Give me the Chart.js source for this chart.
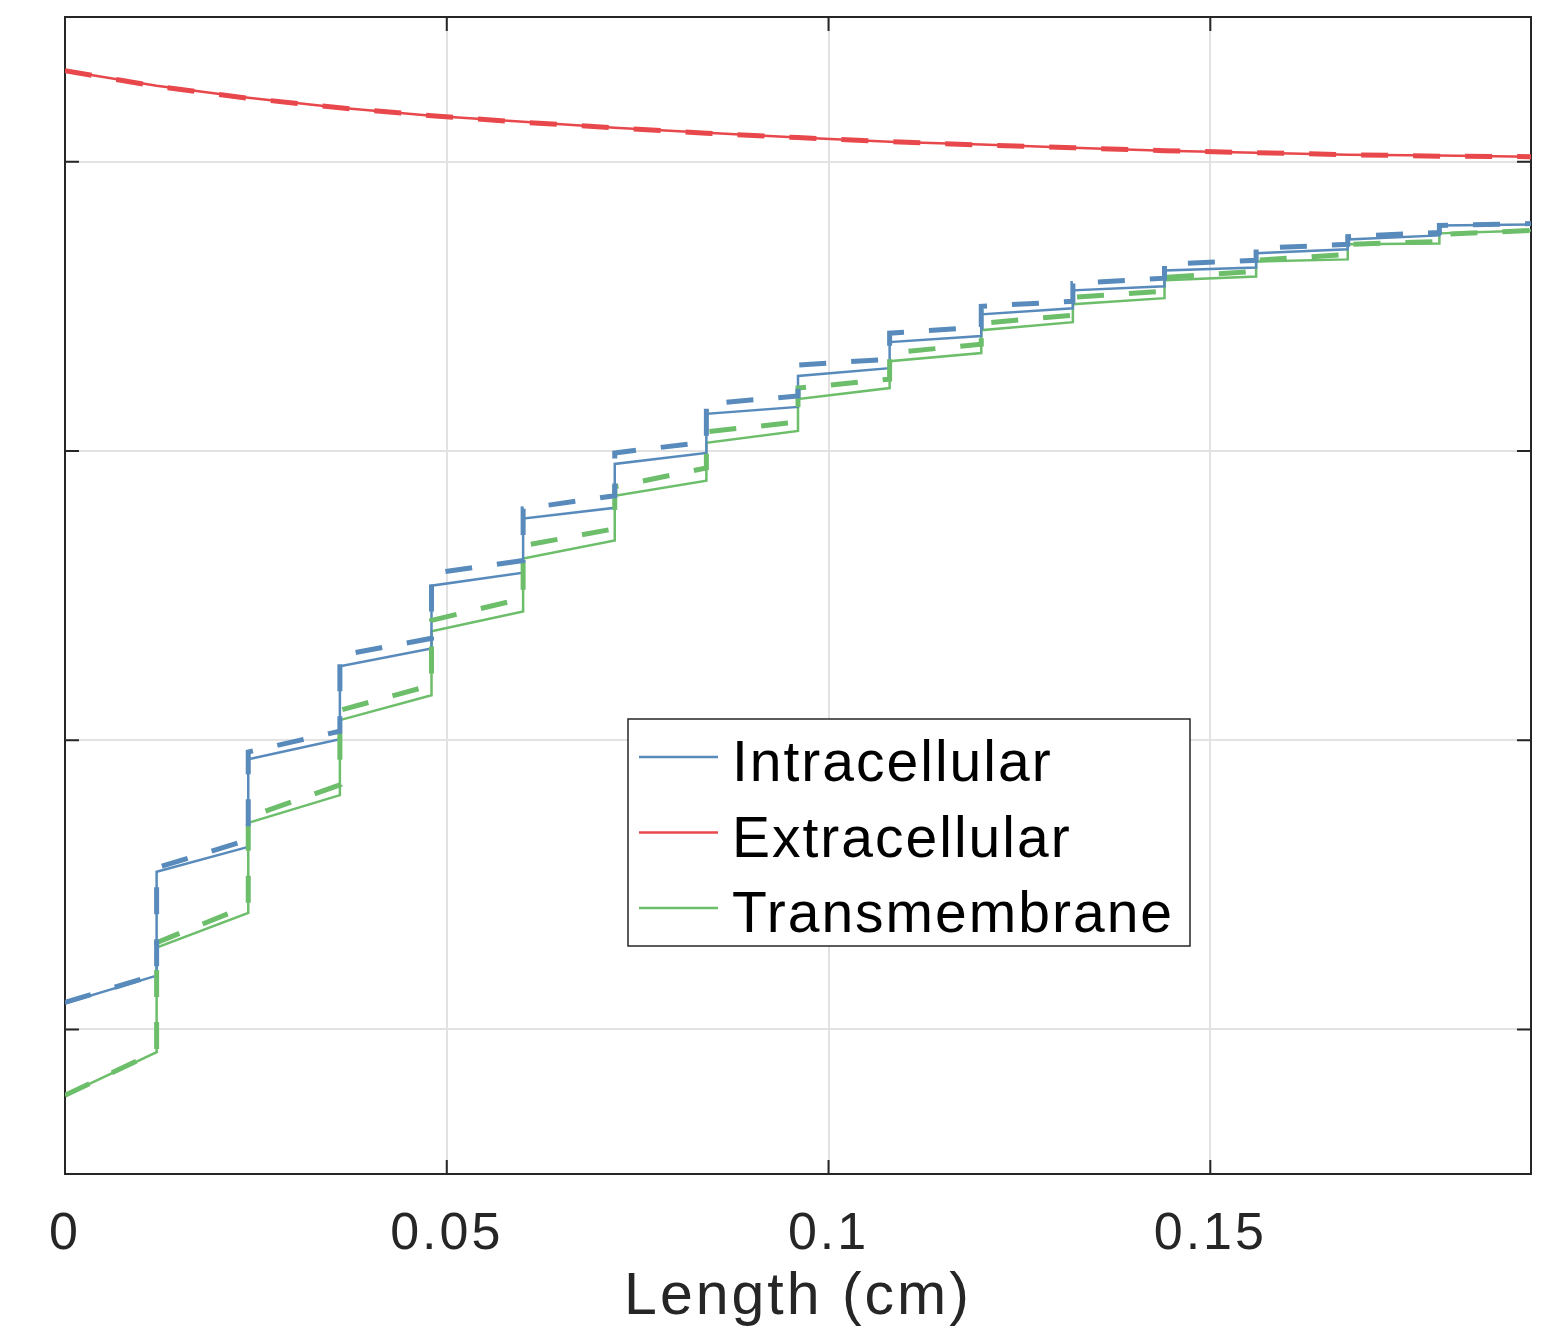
<!DOCTYPE html>
<html>
<head>
<meta charset="utf-8">
<script src="https://cdn.jsdelivr.net/npm/chart.js@4.4.0/dist/chart.umd.min.js"></script>
<style>
  body { margin: 0; background: #fff; }
  #wrap { width: 1553px; height: 1333px; }
</style>
</head>
<body>
<div id="wrap"><canvas id="myChart" width="1553" height="1333"></canvas></div>
<script>
// element boundaries along the fibre (cm)
var edges = [0, 0.012, 0.024, 0.036, 0.048, 0.06, 0.072, 0.084, 0.096, 0.108,
             0.12, 0.132, 0.144, 0.156, 0.168, 0.18, 0.192];

// intracellular, value at start / end of each element
var intraStart  = [0.590, 1.045, 1.434, 1.755, 2.034, 2.266, 2.455, 2.628, 2.759, 2.876, 2.972, 3.055, 3.124, 3.183, 3.231, 3.279];
var intraEnd    = [0.686, 1.131, 1.503, 1.817, 2.079, 2.303, 2.493, 2.652, 2.786, 2.897, 2.993, 3.069, 3.134, 3.197, 3.245, 3.283];
var intraStartD = [0.593, 1.059, 1.459, 1.793, 2.076, 2.300, 2.493, 2.662, 2.797, 2.907, 3.000, 3.079, 3.145, 3.200, 3.241, 3.279];
var intraEndD   = [0.690, 1.155, 1.531, 1.852, 2.121, 2.345, 2.531, 2.690, 2.817, 2.928, 3.017, 3.097, 3.159, 3.214, 3.255, 3.286];

// transmembrane
var transStart  = [0.272, 0.783, 1.214, 1.569, 1.876, 2.128, 2.345, 2.528, 2.679, 2.810, 2.917, 3.007, 3.090, 3.155, 3.214, 3.252];
var transEnd    = [0.421, 0.903, 1.310, 1.655, 1.945, 2.190, 2.397, 2.569, 2.717, 2.838, 2.945, 3.028, 3.103, 3.162, 3.217, 3.262];
var transStartD = [0.272, 0.800, 1.234, 1.603, 1.914, 2.172, 2.376, 2.566, 2.717, 2.838, 2.941, 3.031, 3.100, 3.159, 3.214, 3.248];
var transEndD   = [0.424, 0.928, 1.345, 1.690, 1.990, 2.231, 2.441, 2.600, 2.748, 2.869, 2.969, 3.052, 3.121, 3.179, 3.224, 3.262];

// extracellular, sampled at the element boundaries
var extra  = [3.814, 3.762, 3.721, 3.686, 3.659, 3.638, 3.617, 3.600, 3.583, 3.569, 3.559, 3.548, 3.538, 3.531, 3.524, 3.521, 3.517];
var extraD = [3.814, 3.760, 3.719, 3.686, 3.659, 3.636, 3.617, 3.598, 3.583, 3.569, 3.557, 3.548, 3.538, 3.531, 3.524, 3.519, 3.517];

var xTicks = [0, 0.05, 0.1, 0.15];
var xTickLabels = ['0', '0.05', '0.1', '0.15'];
var yGrid = [0.5, 1.5, 2.5, 3.5];

var blue = 'rgb(88,139,187)';
var red = 'rgb(232,72,75)';
var green = 'rgb(109,190,106)';
var axisColor = '#262626';

function steps(start, end) {
    var pts = [];
    for (var i = 0; i < start.length; i++) {
        pts.push({x: edges[i], y: start[i]});
        pts.push({x: edges[i + 1], y: end[i]});
    }
    return pts;
}

function curve(vals) {
    return vals.map(function (v, i) { return {x: edges[i], y: v}; });
}

function solid(label, color, data) {
    return {label: label, data: data, borderColor: color, borderWidth: 2.5,
            pointRadius: 0, fill: false, tension: 0, order: 1, inLegend: true};
}

function dashed(label, color, data) {
    return {label: label, data: data, borderColor: color, borderWidth: 5,
            borderDash: [27, 25], borderCapStyle: 'butt',
            pointRadius: 0, fill: false, tension: 0, order: 0, inLegend: false};
}

// box, inward ticks and in-plot legend like the original figure
var framePlugin = {
    id: 'frame',
    beforeDraw: function (chart) {
        chart.ctx.letterSpacing = '3px';
    },
    beforeDatasetsDraw: function (chart) {
        var ctx = chart.ctx, a = chart.chartArea;
        var xs = chart.scales.x, ys = chart.scales.y;
        ctx.save();
        ctx.strokeStyle = axisColor;
        ctx.lineWidth = 2;
        ctx.strokeRect(a.left, a.top, a.right - a.left, a.bottom - a.top);
        ctx.beginPath();
        xTicks.forEach(function (v) {
            var px = xs.getPixelForValue(v);
            ctx.moveTo(px, a.bottom); ctx.lineTo(px, a.bottom - 14);
            ctx.moveTo(px, a.top); ctx.lineTo(px, a.top + 14);
        });
        yGrid.forEach(function (v) {
            var py = ys.getPixelForValue(v);
            ctx.moveTo(a.left, py); ctx.lineTo(a.left + 14, py);
            ctx.moveTo(a.right, py); ctx.lineTo(a.right - 14, py);
        });
        ctx.stroke();
        ctx.restore();
    },
    afterDatasetsDraw: function (chart) {
        var ctx = chart.ctx, a = chart.chartArea;
        var bx = a.left + 563, by = a.top + 702, bw = 562, bh = 227;
        ctx.save();
        ctx.fillStyle = '#fff';
        ctx.fillRect(bx, by, bw, bh);
        ctx.strokeStyle = axisColor;
        ctx.lineWidth = 1.5;
        ctx.strokeRect(bx, by, bw, bh);
        ctx.font = '57px "Liberation Sans", Arial, sans-serif';
        ctx.letterSpacing = '2px';
        ctx.textBaseline = 'alphabetic';
        ctx.fillStyle = '#000';
        var row = 0;
        chart.data.datasets.forEach(function (ds) {
            if (!ds.inLegend) return;
            var ly = by + 38 + row * 75.5;
            ctx.strokeStyle = ds.borderColor;
            ctx.lineWidth = 2.5;
            ctx.beginPath();
            ctx.moveTo(bx + 11, ly);
            ctx.lineTo(bx + 90, ly);
            ctx.stroke();
            ctx.fillText(ds.label, bx + 104, by + 62 + row * 75.5);
            row++;
        });
        ctx.restore();
    }
};

var ctx = document.getElementById('myChart').getContext('2d');
var chart = new Chart(ctx, {
    type: 'line',
    data: {
        datasets: [
            solid('Intracellular', blue, steps(intraStart, intraEnd)),
            solid('Extracellular', red, curve(extra)),
            solid('Transmembrane', green, steps(transStart, transEnd)),
            dashed('Intracellular (ref)', blue, steps(intraStartD, intraEndD)),
            dashed('Extracellular (ref)', red, curve(extraD)),
            dashed('Transmembrane (ref)', green, steps(transStartD, transEndD))
        ]
    },
    options: {
        responsive: false,
        animation: false,
        layout: {padding: {left: 65, right: 22, top: 17, bottom: 0}},
        plugins: {legend: {display: false}, tooltip: {enabled: false}},
        scales: {
            x: {
                type: 'linear',
                min: 0,
                max: 0.192,
                afterBuildTicks: function (scale) {
                    scale.ticks = xTicks.map(function (v) { return {value: v}; });
                },
                afterFit: function (scale) { scale.height = 159; },
                grid: {color: '#e2e2e2', lineWidth: 2, drawTicks: false},
                border: {display: false},
                ticks: {
                    padding: 29,
                    color: axisColor,
                    font: {family: '"Liberation Sans", Arial, sans-serif', size: 52},
                    maxRotation: 0,
                    callback: function (v) {
                        var i = xTicks.indexOf(v);
                        return i >= 0 ? xTickLabels[i] : '';
                    }
                },
                title: {
                    display: true,
                    text: 'Length (cm)',
                    color: axisColor,
                    font: {family: '"Liberation Sans", Arial, sans-serif', size: 59},
                    padding: {top: 0, bottom: 0}
                }
            },
            y: {
                type: 'linear',
                min: 0,
                max: 4,
                afterBuildTicks: function (scale) {
                    scale.ticks = yGrid.map(function (v) { return {value: v}; });
                },
                afterFit: function (scale) { scale.width = 0; },
                grid: {color: '#e2e2e2', lineWidth: 2, drawTicks: false},
                border: {display: false},
                ticks: {display: false}
            }
        }
    },
    plugins: [framePlugin]
});
</script>
</body>
</html>
